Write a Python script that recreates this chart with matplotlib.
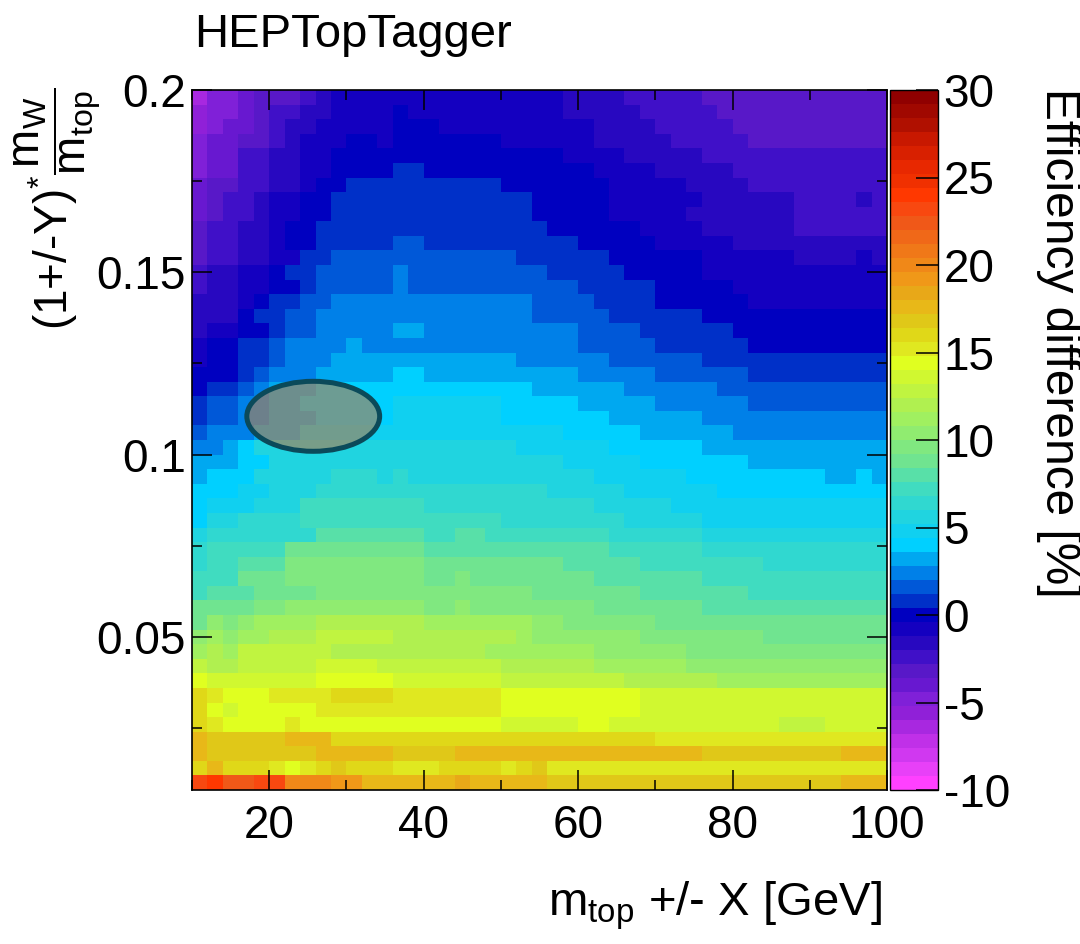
import numpy as np
import matplotlib
matplotlib.use("Agg")
import matplotlib.pyplot as plt
from matplotlib.colors import ListedColormap, BoundaryNorm
from matplotlib.patches import Ellipse
from matplotlib.ticker import MultipleLocator

plt.rcParams['font.family'] = ['Liberation Sans', 'DejaVu Sans']
plt.rcParams['mathtext.fontset'] = 'custom'
plt.rcParams['mathtext.rm'] = 'Liberation Sans'
plt.rcParams['mathtext.it'] = 'Liberation Sans:italic'
plt.rcParams['mathtext.bf'] = 'Liberation Sans:bold'

# ---------------- texts ----------------
title = "HEPTopTagger"
x_label = r"m$_{\mathrm{top}}$ +/- X [GeV]"
y_label = r"(1+/-Y)$^{*}\dfrac{\mathrm{m_{W}}}{\mathrm{m_{top}}}$"
z_label = "Efficiency difference [%]"

# ---------------- axes / bins ----------------
x_edges = np.arange(10, 101, 2)          # 45 bins, 2 GeV wide
y_edges = np.linspace(0.008, 0.2, 49)    # 48 bins, 0.004 wide
x_ticks = [20, 40, 60, 80, 100]
x_tick_labels = ["20", "40", "60", "80", "100"]
y_ticks = [0.05, 0.1, 0.15, 0.2]
y_tick_labels = ["0.05", "0.1", "0.15", "0.2"]
z_ticks = [-10, -5, 0, 5, 10, 15, 20, 25, 30]
z_tick_labels = ["-10", "-5", "0", "5", "10", "15", "20", "25", "30"]
z_min, z_max, n_levels = -10, 30, 50

palette = [
    "#ff40ff", "#e840f8", "#d038f0", "#c030e8", "#a828e0", "#9020d8", "#8020d8", "#6818d0", "#5818c8", "#4010c8",
    "#2808c0", "#1400c0", "#0000c0", "#0030c8", "#0058d8", "#0080e8", "#00a8f0", "#00d0ff", "#10d0f0", "#20d4e0",
    "#30d8d0", "#40dcc0", "#58e0a8", "#70e490", "#80e880", "#90ec70", "#a0f060", "#b0f050", "#c0f440", "#d0f830",
    "#e0ff20", "#e0e820", "#e0d818", "#e0c818", "#e8b818", "#e8a818", "#f09818", "#f08818", "#f07818", "#f06818",
    "#f05818", "#f84810", "#ff3800", "#f03000", "#e82800", "#d82000", "#c81800", "#b01000", "#a00800", "#900000",
]

# Efficiency difference [%]; rows from top (y ~ 0.198) to bottom (y ~ 0.010), columns x = 11 ... 99 GeV
eff_diff = [
    [-6.4, -4.8, -4.8, -4.0, -3.2, -3.2, -3.2, -2.4, -1.6, -0.8, -0.8, -0.8, -0.8, -0.8, -0.8, -0.8, -0.8, -0.8, -0.8, -0.8, -0.8, -0.8, -0.8, -0.8, -1.6, -1.6, -1.6, -1.6, -2.4, -2.4, -2.4, -2.4, -2.4, -3.2, -3.2, -3.2, -3.2, -3.2, -3.2, -3.2, -3.2, -3.2, -3.2, -3.2, -3.2],
    [-5.6, -4.8, -4.8, -4.0, -3.2, -2.4, -2.4, -1.6, -1.6, -0.8, -0.8, -0.8, -0.8, 0.0, -0.8, -0.8, -0.8, -0.8, -0.8, -0.8, -0.8, -0.8, -0.8, -0.8, -1.6, -1.6, -1.6, -1.6, -1.6, -2.4, -2.4, -2.4, -2.4, -2.4, -3.2, -3.2, -3.2, -3.2, -3.2, -3.2, -3.2, -3.2, -3.2, -3.2, -3.2],
    [-5.6, -4.8, -4.0, -4.0, -3.2, -2.4, -1.6, -1.6, -0.8, -0.8, -0.8, -0.8, -0.8, 0.0, 0.0, 0.0, -0.8, -0.8, -0.8, -0.8, -0.8, -0.8, -0.8, -0.8, -0.8, -0.8, -1.6, -1.6, -1.6, -1.6, -2.4, -2.4, -2.4, -2.4, -2.4, -3.2, -3.2, -3.2, -3.2, -3.2, -3.2, -3.2, -3.2, -3.2, -3.2],
    [-4.8, -4.0, -4.0, -3.2, -3.2, -2.4, -1.6, -0.8, -0.8, -0.8, 0.0, 0.0, -0.8, 0.0, 0.0, 0.0, 0.0, 0.0, 0.0, 0.0, -0.8, -0.8, -0.8, -0.8, -0.8, -0.8, -1.6, -1.6, -1.6, -1.6, -1.6, -2.4, -2.4, -2.4, -2.4, -2.4, -3.2, -3.2, -3.2, -3.2, -3.2, -3.2, -3.2, -3.2, -3.2],
    [-4.8, -4.0, -4.0, -2.4, -2.4, -1.6, -1.6, -0.8, -0.8, 0.0, 0.0, 0.0, 0.0, 0.0, 0.0, 0.0, 0.0, 0.0, 0.0, 0.0, 0.0, 0.0, 0.0, 0.0, -0.8, -0.8, -0.8, -0.8, -1.6, -1.6, -1.6, -1.6, -1.6, -2.4, -2.4, -2.4, -2.4, -2.4, -2.4, -2.4, -2.4, -2.4, -2.4, -2.4, -2.4],
    [-4.8, -4.0, -4.0, -2.4, -2.4, -1.6, -1.6, -0.8, -0.8, 0.0, 0.0, 0.0, 0.0, 0.8, 0.8, 0.0, 0.0, 0.0, 0.0, 0.0, 0.0, 0.0, 0.0, 0.0, 0.0, 0.0, -0.8, -0.8, -0.8, -0.8, -1.6, -1.6, -1.6, -1.6, -1.6, -2.4, -2.4, -2.4, -2.4, -2.4, -2.4, -2.4, -2.4, -2.4, -2.4],
    [-4.0, -3.2, -3.2, -2.4, -2.4, -1.6, -1.6, -0.8, 0.0, 0.0, 0.8, 0.8, 0.8, 0.8, 0.8, 0.8, 0.8, 0.8, 0.8, 0.8, 0.0, 0.0, 0.0, 0.0, 0.0, 0.0, 0.0, -0.8, -0.8, -0.8, -0.8, -0.8, -1.6, -1.6, -1.6, -1.6, -2.4, -2.4, -2.4, -2.4, -2.4, -2.4, -2.4, -2.4, -2.4],
    [-4.0, -3.2, -2.4, -2.4, -1.6, -0.8, -0.8, 0.0, 0.0, 0.8, 0.8, 0.8, 0.8, 0.8, 0.8, 0.8, 0.8, 0.8, 0.8, 0.8, 0.8, 0.8, 0.0, 0.0, 0.0, 0.0, 0.0, -0.8, -0.8, -0.8, -0.8, -0.8, -0.8, -1.6, -1.6, -1.6, -1.6, -1.6, -1.6, -2.4, -2.4, -2.4, -2.4, -1.6, -2.4],
    [-4.0, -3.2, -2.4, -2.4, -1.6, -0.8, -0.8, 0.0, 0.0, 0.8, 0.8, 0.8, 0.8, 0.8, 0.8, 0.8, 0.8, 0.8, 0.8, 0.8, 0.8, 0.8, 0.0, 0.0, 0.0, 0.0, 0.0, -0.8, -0.8, -0.8, -0.8, -0.8, -1.6, -1.6, -1.6, -1.6, -1.6, -1.6, -1.6, -2.4, -2.4, -2.4, -2.4, -2.4, -2.4],
    [-3.2, -2.4, -2.4, -1.6, -1.6, -0.8, 0.0, 0.0, 0.8, 0.8, 0.8, 0.8, 0.8, 0.8, 0.8, 0.8, 0.8, 0.8, 0.8, 0.8, 0.8, 0.8, 0.8, 0.0, 0.0, 0.0, 0.0, 0.0, 0.0, -0.8, -0.8, -0.8, -0.8, -1.6, -1.6, -1.6, -1.6, -1.6, -1.6, -2.4, -2.4, -2.4, -2.4, -2.4, -2.4],
    [-3.2, -2.4, -2.4, -1.6, -1.6, -0.8, 0.0, 0.0, 0.8, 0.8, 0.8, 0.8, 0.8, 1.6, 1.6, 0.8, 0.8, 0.8, 0.8, 0.8, 0.8, 0.8, 0.8, 0.8, 0.8, 0.0, 0.0, 0.0, 0.0, 0.0, -0.8, -0.8, -0.8, -0.8, -0.8, -1.6, -1.6, -1.6, -1.6, -1.6, -1.6, -1.6, -1.6, -1.6, -1.6],
    [-3.2, -2.4, -2.4, -1.6, -1.6, -0.8, -0.8, 0.8, 0.8, 1.6, 1.6, 1.6, 1.6, 1.6, 1.6, 1.6, 1.6, 1.6, 1.6, 1.6, 1.6, 0.8, 0.8, 0.8, 0.8, 0.8, 0.8, 0.0, 0.0, 0.0, 0.0, 0.0, 0.0, -0.8, -0.8, -0.8, -0.8, -0.8, -0.8, -1.6, -1.6, -1.6, -1.6, -0.8, -1.6],
    [-2.4, -1.6, -1.6, -0.8, -0.8, 0.0, 0.8, 0.8, 1.6, 1.6, 1.6, 1.6, 1.6, 2.4, 1.6, 1.6, 1.6, 1.6, 1.6, 1.6, 1.6, 1.6, 1.6, 0.8, 0.8, 0.8, 0.8, 0.8, 0.0, 0.0, 0.0, 0.0, 0.0, -0.8, -0.8, -0.8, -0.8, -0.8, -0.8, -0.8, -0.8, -0.8, -0.8, -0.8, -0.8],
    [-2.4, -1.6, -1.6, -0.8, -0.8, 0.0, 0.0, 0.8, 1.6, 1.6, 1.6, 1.6, 1.6, 2.4, 1.6, 1.6, 1.6, 1.6, 1.6, 1.6, 1.6, 1.6, 1.6, 1.6, 1.6, 0.8, 0.8, 0.8, 0.8, 0.8, 0.0, 0.0, 0.0, 0.0, 0.0, -0.8, -0.8, -0.8, -0.8, -0.8, -0.8, -0.8, -0.8, -0.8, -0.8],
    [-1.6, -1.6, -1.6, -0.8, 0.0, 0.8, 0.8, 1.6, 1.6, 2.4, 2.4, 2.4, 2.4, 2.4, 2.4, 2.4, 2.4, 2.4, 2.4, 2.4, 2.4, 2.4, 1.6, 1.6, 1.6, 1.6, 0.8, 0.8, 0.8, 0.8, 0.0, 0.0, 0.0, 0.0, 0.0, 0.0, -0.8, -0.8, -0.8, -0.8, -0.8, -0.8, -0.8, -0.8, -0.8],
    [-1.6, -1.6, -1.6, 0.0, 0.8, 0.8, 1.6, 1.6, 2.4, 2.4, 2.4, 2.4, 2.4, 2.4, 2.4, 2.4, 2.4, 2.4, 2.4, 2.4, 2.4, 2.4, 1.6, 1.6, 1.6, 1.6, 1.6, 0.8, 0.8, 0.8, 0.8, 0.8, 0.8, 0.0, 0.0, 0.0, 0.0, 0.0, 0.0, 0.0, 0.0, 0.0, 0.0, 0.0, 0.0],
    [-1.6, -0.8, -0.8, 0.0, 0.0, 0.8, 1.6, 1.6, 2.4, 2.4, 2.4, 2.4, 2.4, 3.2, 3.2, 2.4, 2.4, 2.4, 2.4, 2.4, 2.4, 2.4, 2.4, 2.4, 2.4, 1.6, 1.6, 1.6, 1.6, 0.8, 0.8, 0.8, 0.8, 0.8, 0.8, 0.0, 0.0, 0.0, 0.0, 0.0, 0.0, 0.0, 0.0, 0.0, 0.0],
    [-0.8, 0.0, 0.0, 0.8, 0.8, 1.6, 2.4, 2.4, 2.4, 2.4, 3.2, 2.4, 2.4, 2.4, 2.4, 2.4, 2.4, 2.4, 2.4, 2.4, 2.4, 2.4, 2.4, 2.4, 2.4, 1.6, 1.6, 1.6, 1.6, 1.6, 0.8, 0.8, 0.8, 0.8, 0.8, 0.8, 0.0, 0.0, 0.0, 0.0, 0.0, 0.0, 0.0, 0.0, 0.0],
    [-0.8, 0.0, 0.0, 0.8, 0.8, 1.6, 2.4, 2.4, 2.4, 3.2, 3.2, 3.2, 3.2, 3.2, 3.2, 3.2, 3.2, 3.2, 3.2, 3.2, 3.2, 2.4, 2.4, 2.4, 2.4, 2.4, 2.4, 1.6, 1.6, 1.6, 1.6, 1.6, 1.6, 0.8, 0.8, 0.8, 0.8, 0.8, 0.8, 0.8, 0.8, 0.8, 0.8, 0.8, 0.8],
    [0.0, 0.0, 0.0, 0.8, 1.6, 2.4, 2.4, 2.4, 3.2, 3.2, 3.2, 3.2, 3.2, 4.0, 4.0, 3.2, 3.2, 3.2, 3.2, 3.2, 3.2, 3.2, 3.2, 3.2, 3.2, 2.4, 2.4, 2.4, 2.4, 2.4, 1.6, 1.6, 1.6, 1.6, 1.6, 1.6, 0.8, 0.8, 0.8, 0.8, 0.8, 0.8, 0.8, 0.8, 0.8],
    [0.0, 0.8, 0.8, 1.6, 2.4, 3.2, 3.2, 3.2, 4.0, 4.0, 4.0, 4.0, 4.0, 4.0, 4.0, 4.0, 4.0, 4.0, 4.0, 4.0, 4.0, 4.0, 3.2, 3.2, 3.2, 3.2, 3.2, 3.2, 2.4, 2.4, 2.4, 2.4, 2.4, 2.4, 1.6, 1.6, 1.6, 1.6, 1.6, 1.6, 1.6, 1.6, 1.6, 1.6, 1.6],
    [0.8, 1.6, 1.6, 2.4, 2.4, 3.2, 3.2, 4.0, 4.0, 4.0, 4.0, 4.0, 4.0, 4.8, 4.8, 4.8, 4.8, 4.8, 4.8, 4.8, 4.0, 4.0, 4.0, 4.0, 4.0, 3.2, 3.2, 3.2, 3.2, 3.2, 2.4, 2.4, 2.4, 2.4, 2.4, 2.4, 1.6, 1.6, 1.6, 1.6, 1.6, 1.6, 1.6, 1.6, 1.6],
    [0.8, 1.6, 1.6, 2.4, 2.4, 3.2, 3.2, 3.2, 4.0, 4.0, 4.0, 4.0, 4.0, 4.8, 4.8, 4.8, 4.8, 4.8, 4.8, 4.8, 4.0, 4.0, 4.0, 4.0, 4.0, 4.0, 4.0, 3.2, 3.2, 3.2, 3.2, 3.2, 3.2, 2.4, 2.4, 2.4, 2.4, 2.4, 2.4, 2.4, 2.4, 2.4, 2.4, 2.4, 2.4],
    [1.6, 2.4, 2.4, 2.4, 3.2, 3.2, 3.2, 4.8, 4.8, 4.8, 4.8, 4.8, 4.8, 4.8, 4.8, 4.8, 4.8, 4.8, 4.8, 4.8, 4.8, 4.8, 4.8, 4.8, 4.0, 4.0, 4.0, 4.0, 4.0, 3.2, 3.2, 3.2, 3.2, 3.2, 3.2, 2.4, 2.4, 2.4, 2.4, 2.4, 2.4, 2.4, 2.4, 2.4, 2.4],
    [2.4, 2.4, 3.2, 4.0, 5.6, 5.6, 5.6, 5.6, 5.6, 5.6, 5.6, 5.6, 5.6, 5.6, 5.6, 5.6, 5.6, 5.6, 5.6, 5.6, 5.6, 4.8, 4.8, 4.8, 4.8, 4.8, 4.8, 4.0, 4.0, 4.0, 4.0, 4.0, 4.0, 3.2, 3.2, 3.2, 3.2, 3.2, 3.2, 3.2, 3.2, 3.2, 3.2, 3.2, 3.2],
    [3.2, 3.2, 3.2, 4.0, 4.0, 5.6, 5.6, 5.6, 5.6, 5.6, 5.6, 5.6, 5.6, 5.6, 5.6, 5.6, 5.6, 5.6, 5.6, 5.6, 5.6, 5.6, 5.6, 5.6, 4.8, 4.8, 4.8, 4.8, 4.8, 4.0, 4.0, 4.0, 4.0, 4.0, 4.0, 4.0, 3.2, 3.2, 3.2, 3.2, 3.2, 3.2, 3.2, 3.2, 3.2],
    [3.2, 4.0, 4.0, 4.0, 5.6, 5.6, 5.6, 5.6, 5.6, 6.4, 6.4, 6.4, 5.6, 6.4, 5.6, 5.6, 5.6, 5.6, 5.6, 5.6, 5.6, 5.6, 5.6, 5.6, 5.6, 5.6, 4.8, 4.8, 4.8, 4.8, 4.8, 4.8, 4.0, 4.0, 4.0, 4.0, 4.0, 4.0, 4.0, 4.0, 4.0, 3.2, 3.2, 4.0, 3.2],
    [4.0, 4.0, 4.0, 4.8, 4.8, 5.6, 5.6, 5.6, 6.4, 6.4, 6.4, 6.4, 6.4, 6.4, 6.4, 6.4, 6.4, 6.4, 6.4, 6.4, 6.4, 6.4, 6.4, 5.6, 5.6, 5.6, 5.6, 5.6, 4.8, 4.8, 4.8, 4.8, 4.8, 4.8, 4.0, 4.0, 4.0, 4.0, 4.0, 4.0, 4.0, 4.0, 4.0, 4.0, 4.0],
    [4.0, 4.8, 4.8, 4.8, 5.6, 5.6, 5.6, 7.2, 7.2, 7.2, 7.2, 7.2, 7.2, 7.2, 7.2, 6.4, 6.4, 6.4, 6.4, 6.4, 6.4, 6.4, 6.4, 6.4, 6.4, 6.4, 5.6, 5.6, 5.6, 5.6, 5.6, 4.8, 4.8, 4.8, 4.8, 4.8, 4.8, 4.8, 4.8, 4.8, 4.8, 4.8, 4.8, 4.8, 4.8],
    [4.0, 5.6, 5.6, 6.4, 6.4, 6.4, 6.4, 7.2, 7.2, 7.2, 7.2, 7.2, 7.2, 7.2, 7.2, 7.2, 7.2, 7.2, 7.2, 7.2, 6.4, 6.4, 6.4, 6.4, 6.4, 6.4, 6.4, 6.4, 5.6, 5.6, 5.6, 5.6, 5.6, 4.8, 4.8, 4.8, 4.8, 4.8, 4.8, 4.8, 4.8, 4.8, 4.8, 4.8, 4.8],
    [5.6, 6.4, 6.4, 6.4, 6.4, 6.4, 6.4, 6.4, 8.0, 8.0, 8.0, 8.0, 8.0, 8.0, 8.0, 7.2, 7.2, 8.0, 8.0, 7.2, 7.2, 7.2, 7.2, 7.2, 7.2, 7.2, 7.2, 6.4, 6.4, 6.4, 6.4, 6.4, 6.4, 5.6, 5.6, 5.6, 5.6, 5.6, 5.6, 5.6, 5.6, 5.6, 5.6, 5.6, 5.6],
    [6.4, 7.2, 7.2, 7.2, 7.2, 7.2, 8.8, 8.8, 8.8, 8.8, 8.8, 8.8, 8.8, 8.8, 8.8, 8.0, 8.0, 8.0, 8.0, 8.0, 8.0, 8.0, 8.0, 8.0, 8.0, 8.0, 8.0, 7.2, 7.2, 7.2, 7.2, 7.2, 7.2, 6.4, 6.4, 6.4, 6.4, 6.4, 6.4, 6.4, 6.4, 6.4, 6.4, 6.4, 6.4],
    [6.4, 7.2, 7.2, 8.0, 8.0, 8.0, 9.6, 9.6, 9.6, 9.6, 9.6, 9.6, 9.6, 9.6, 9.6, 8.8, 8.8, 8.8, 8.8, 8.8, 8.8, 8.8, 8.8, 8.8, 8.0, 8.0, 8.0, 8.0, 8.0, 7.2, 7.2, 7.2, 7.2, 7.2, 7.2, 7.2, 7.2, 6.4, 6.4, 6.4, 6.4, 6.4, 6.4, 6.4, 6.4],
    [7.2, 7.2, 7.2, 8.8, 8.8, 8.8, 9.6, 9.6, 9.6, 9.6, 9.6, 9.6, 9.6, 9.6, 9.6, 8.8, 8.8, 9.6, 8.8, 8.8, 8.8, 8.8, 8.8, 8.8, 8.8, 8.8, 8.0, 8.0, 8.0, 8.0, 8.0, 8.0, 8.0, 7.2, 7.2, 7.2, 7.2, 7.2, 7.2, 7.2, 7.2, 7.2, 7.2, 7.2, 7.2],
    [7.2, 8.0, 8.0, 8.0, 8.8, 8.8, 8.8, 8.8, 9.6, 9.6, 9.6, 9.6, 9.6, 9.6, 9.6, 9.6, 9.6, 9.6, 9.6, 9.6, 9.6, 9.6, 8.8, 8.8, 8.8, 8.8, 8.8, 8.8, 8.8, 8.0, 8.0, 8.0, 8.0, 8.0, 8.0, 8.0, 7.2, 7.2, 7.2, 7.2, 7.2, 7.2, 7.2, 7.2, 7.2],
    [8.8, 8.8, 8.8, 8.8, 9.6, 9.6, 10.4, 10.4, 10.4, 10.4, 10.4, 10.4, 10.4, 10.4, 10.4, 9.6, 9.6, 10.4, 9.6, 9.6, 9.6, 9.6, 9.6, 9.6, 9.6, 9.6, 8.8, 8.8, 8.8, 8.8, 8.8, 8.8, 8.8, 8.0, 8.0, 8.0, 8.0, 8.0, 8.0, 8.0, 8.0, 8.0, 8.0, 8.0, 8.0],
    [8.8, 10.4, 9.6, 10.4, 11.2, 11.2, 11.2, 11.2, 12.0, 12.0, 12.0, 12.0, 12.0, 12.0, 12.0, 11.2, 11.2, 11.2, 11.2, 11.2, 11.2, 11.2, 10.4, 10.4, 9.6, 9.6, 9.6, 9.6, 9.6, 9.6, 8.8, 8.8, 8.8, 8.8, 8.8, 8.8, 8.8, 8.8, 8.8, 8.8, 8.8, 8.8, 8.8, 8.8, 8.8],
    [10.4, 11.2, 10.4, 11.2, 11.2, 12.0, 12.0, 12.0, 12.8, 12.8, 12.8, 12.8, 12.8, 12.0, 12.0, 12.0, 12.0, 12.0, 12.0, 12.0, 12.0, 11.2, 10.4, 10.4, 10.4, 10.4, 10.4, 10.4, 10.4, 9.6, 9.6, 9.6, 9.6, 9.6, 9.6, 9.6, 9.6, 8.8, 8.8, 8.8, 8.8, 8.8, 8.8, 8.8, 8.8],
    [11.2, 12.0, 11.2, 12.8, 12.8, 12.8, 12.8, 12.8, 12.8, 12.0, 12.0, 12.0, 12.0, 12.0, 12.0, 12.0, 12.0, 12.0, 12.0, 11.2, 11.2, 11.2, 11.2, 11.2, 11.2, 11.2, 10.4, 10.4, 10.4, 10.4, 10.4, 10.4, 9.6, 9.6, 9.6, 9.6, 9.6, 9.6, 9.6, 9.6, 9.6, 9.6, 9.6, 9.6, 9.6],
    [12.8, 12.0, 12.0, 12.8, 12.8, 12.8, 12.8, 12.8, 13.6, 13.6, 13.6, 13.6, 12.8, 12.8, 12.8, 12.8, 12.8, 12.8, 12.8, 12.8, 12.0, 12.0, 12.0, 12.0, 12.0, 12.0, 11.2, 11.2, 11.2, 11.2, 11.2, 11.2, 10.4, 10.4, 10.4, 10.4, 10.4, 10.4, 10.4, 10.4, 10.4, 10.4, 10.4, 10.4, 10.4],
    [14.4, 13.6, 13.6, 13.6, 13.6, 13.6, 13.6, 13.6, 14.4, 14.4, 14.4, 14.4, 14.4, 13.6, 13.6, 13.6, 13.6, 13.6, 13.6, 13.6, 12.8, 12.8, 12.8, 12.8, 12.8, 12.8, 12.8, 12.8, 12.0, 12.0, 12.0, 12.0, 12.0, 12.0, 11.2, 11.2, 11.2, 11.2, 11.2, 11.2, 11.2, 11.2, 11.2, 11.2, 11.2],
    [16.0, 15.2, 14.4, 14.4, 14.4, 15.2, 15.2, 15.2, 15.2, 16.0, 16.0, 16.0, 16.0, 15.2, 15.2, 15.2, 15.2, 15.2, 15.2, 15.2, 14.4, 14.4, 14.4, 14.4, 14.4, 14.4, 14.4, 14.4, 14.4, 13.6, 13.6, 13.6, 13.6, 13.6, 13.6, 13.6, 13.6, 13.6, 13.6, 13.6, 13.6, 13.6, 13.6, 13.6, 13.6],
    [16.0, 14.4, 13.6, 14.4, 14.4, 14.4, 14.4, 14.4, 15.2, 15.2, 15.2, 15.2, 15.2, 15.2, 15.2, 15.2, 15.2, 15.2, 15.2, 15.2, 14.4, 14.4, 14.4, 14.4, 14.4, 14.4, 14.4, 14.4, 14.4, 13.6, 13.6, 13.6, 13.6, 13.6, 13.6, 13.6, 13.6, 13.6, 13.6, 13.6, 13.6, 13.6, 13.6, 13.6, 13.6],
    [16.0, 15.2, 14.4, 14.4, 14.4, 14.4, 15.2, 14.4, 14.4, 14.4, 14.4, 14.4, 14.4, 14.4, 14.4, 14.4, 14.4, 14.4, 14.4, 14.4, 13.6, 13.6, 13.6, 13.6, 13.6, 14.4, 14.4, 13.6, 13.6, 13.6, 13.6, 13.6, 13.6, 13.6, 13.6, 13.6, 13.6, 13.6, 12.8, 12.8, 12.8, 13.6, 13.6, 13.6, 13.6],
    [17.6, 16.8, 16.8, 16.8, 16.8, 16.8, 17.6, 17.6, 17.6, 16.0, 16.0, 16.0, 16.0, 16.0, 16.0, 16.0, 16.0, 16.0, 16.0, 16.0, 16.0, 16.0, 16.0, 16.0, 16.0, 16.0, 16.0, 16.0, 16.0, 16.0, 15.2, 15.2, 15.2, 15.2, 15.2, 15.2, 15.2, 15.2, 15.2, 15.2, 15.2, 15.2, 15.2, 15.2, 15.2],
    [17.6, 16.8, 16.8, 16.8, 16.8, 16.8, 16.8, 16.8, 17.6, 17.6, 17.6, 17.6, 17.6, 16.8, 16.8, 16.8, 16.8, 17.6, 17.6, 17.6, 17.6, 17.6, 17.6, 17.6, 17.6, 17.6, 17.6, 17.6, 17.6, 17.6, 17.6, 17.6, 17.6, 16.8, 16.8, 16.8, 16.8, 16.8, 16.8, 16.8, 16.8, 16.8, 17.6, 17.6, 17.6],
    [16.0, 17.6, 16.0, 16.0, 16.0, 15.2, 14.4, 15.2, 16.0, 16.8, 16.0, 16.0, 16.0, 15.2, 15.2, 15.2, 16.0, 16.0, 16.0, 16.0, 15.2, 16.0, 16.8, 15.2, 15.2, 15.2, 15.2, 15.2, 15.2, 15.2, 15.2, 15.2, 15.2, 15.2, 15.2, 15.2, 15.2, 15.2, 15.2, 15.2, 15.2, 15.2, 15.2, 15.2, 15.2],
    [23.2, 24.0, 22.4, 22.4, 23.2, 23.2, 20.0, 20.0, 20.0, 19.2, 19.2, 17.6, 17.6, 17.6, 17.6, 17.6, 17.6, 18.4, 17.6, 17.6, 17.6, 17.6, 17.6, 16.8, 16.8, 16.8, 16.8, 16.8, 16.8, 16.8, 16.8, 16.8, 16.8, 16.8, 16.8, 16.8, 16.8, 16.8, 16.8, 16.8, 16.8, 16.8, 17.6, 17.6, 17.6],
]

# highlighted working point (ellipse): centre and full extents in data units
ellipse_center = (25.7, 0.1105)
ellipse_size = (17.2, 0.0192)

# ---------------- figure ----------------
W, H = 1080, 944
fig = plt.figure(figsize=(W / 100, H / 100), dpi=100)
ax = fig.add_axes([192 / W, 1 - 790 / H, 695 / W, 700 / H])
cax = fig.add_axes([890 / W, 1 - 790 / H, 48 / W, 700 / H])

Z = np.flipud(np.array(eff_diff, dtype=float))
assert Z.shape == (len(y_edges) - 1, len(x_edges) - 1), Z.shape

cmap = ListedColormap(palette)
levels = np.linspace(z_min, z_max, n_levels + 1)
norm = BoundaryNorm(levels, cmap.N)
pcm = ax.pcolormesh(x_edges, y_edges, Z, cmap=cmap, norm=norm,
                    shading='flat', edgecolors='none', linewidth=0)

ax.add_patch(Ellipse(ellipse_center, ellipse_size[0], ellipse_size[1],
                     facecolor=(0.66, 0.50, 0.35, 0.65), edgecolor='#0b4a5a',
                     linewidth=3.6, zorder=5))

ax.set_xlim(x_edges[0], x_edges[-1])
ax.set_ylim(y_edges[0], y_edges[-1])
ax.set_xticks(x_ticks)
ax.set_xticklabels(x_tick_labels)
ax.set_yticks(y_ticks)
ax.set_yticklabels(y_tick_labels)
ax.xaxis.set_minor_locator(MultipleLocator(10))
ax.yaxis.set_minor_locator(MultipleLocator(0.025))
ax.tick_params(which='both', direction='in', top=True, right=True, width=1.1, color='black')
ax.tick_params(which='major', length=14.5, labelsize=33)
ax.tick_params(which='minor', length=7.5)
ax.tick_params(axis='x', which='major', pad=10)
ax.tick_params(axis='y', which='major', pad=4.5)
for s in ax.spines.values():
    s.set_linewidth(1.2)

cb = fig.colorbar(pcm, cax=cax, ticks=z_ticks)
cb.ax.set_yticklabels(z_tick_labels)
cb.ax.minorticks_off()
cb.ax.tick_params(direction='in', length=15.5, width=1.1, labelsize=33, pad=4,
                  right=True, left=False)
cb.outline.set_linewidth(1.0)

fig.text(194 / W, 1 - 47 / H, title, fontsize=34, ha='left', va='baseline')
fig.text(882 / W, 1 - 916 / H, x_label, fontsize=34, ha='right', va='baseline')
fig.text(58 / W, 1 - 88 / H, y_label, fontsize=33, rotation=90, ha='center', va='top')
fig.text(1058 / W, 1 - 88 / H, z_label, fontsize=34.5, rotation=-90, ha='center', va='top')

fig.savefig("out.png", dpi=100)
